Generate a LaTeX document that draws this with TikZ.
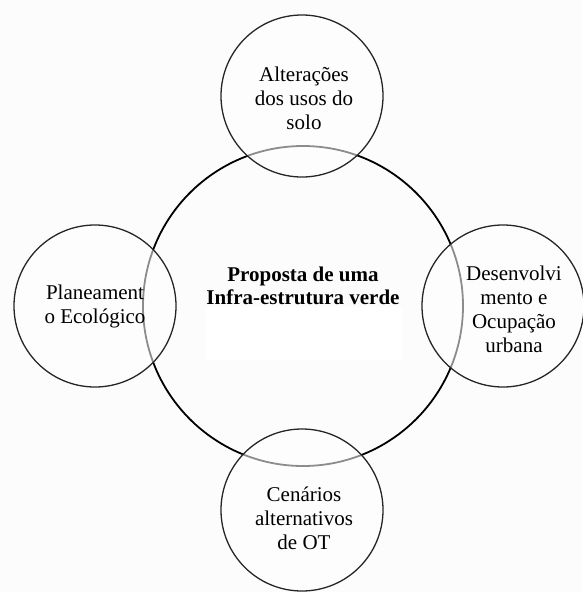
\documentclass[tikz,border=0pt]{standalone}
\usepackage{fontspec}
\setmainfont{Liberation Serif}
\definecolor{bgc}{RGB}{252,252,252}
\begin{document}
\begin{tikzpicture}[x=1pt,y=-1pt,
  bigcirc/.style={circle,draw=black,line width=1.8pt,minimum size=320pt,inner sep=0pt},
  smallcirc/.style={circle,draw=black!85,line width=1.3pt,minimum size=162pt,inner sep=0pt,fill=white,fill opacity=0.55,draw opacity=1},
  lbl/.style={align=center,font=\fontsize{21}{24}\selectfont,inner sep=0pt},
  mainlbl/.style={align=center,font=\fontsize{21}{23}\bfseries\selectfont,inner sep=0pt}]
\fill[bgc] (0,0) rectangle (582,592);
\useasboundingbox (0,0) rectangle (582,592);
\node[bigcirc] (main) at (303,306) {};
\fill[white] (206,307) rectangle (402,360);
\node[mainlbl] (maintxt) at (303,286) {Proposta de uma\\Infra-estrutura verde};
\node[smallcirc] (top) at (302,96) {};
\node[smallcirc] (left) at (95,306) {};
\node[smallcirc] (right) at (503,306) {};
\node[smallcirc] (bottom) at (302,510) {};
\node[lbl] (toptxt) at (304,98) {Alterações\\dos usos do\\solo};
\node[lbl] (lefttxt) at (95,306) {Planeament\\o Ecológico};
\node[lbl] (righttxt) at (514,309) {Desenvolvi\\mento e\\Ocupação\\urbana};
\node[lbl] (bottomtxt) at (304,518) {Cenários\\alternativos\\de OT};
\end{tikzpicture}
\end{document}
